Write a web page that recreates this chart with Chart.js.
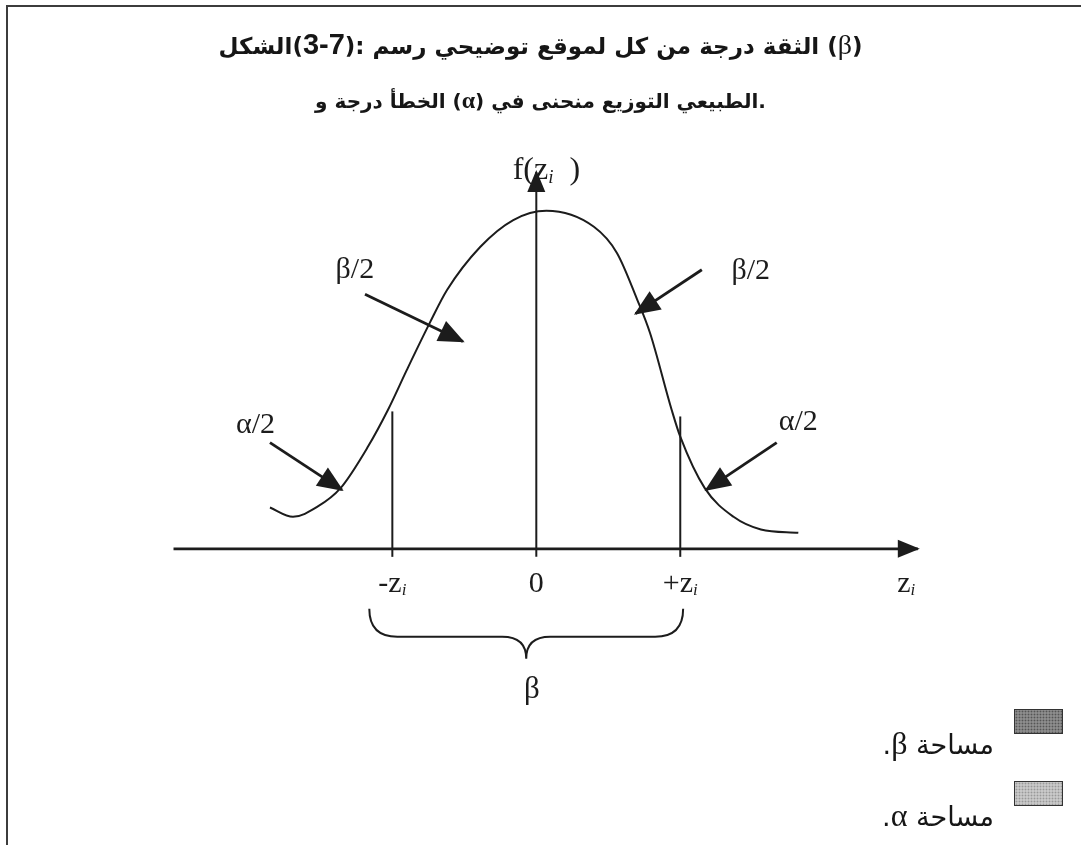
<!DOCTYPE html>
<html lang="ar">
<head>
<meta charset="utf-8">
<title>الشكل(3-7)</title>
<script src="https://cdn.jsdelivr.net/npm/chart.js@4.4.1/dist/chart.umd.min.js"></script>
<style>
  html, body { margin: 0; padding: 0; background: #fff; }
  #page { position: relative; width: 1081px; height: 845px; overflow: hidden; background: #fff; }
  #page canvas { position: absolute; left: 0; top: 0; }
  .frame-top { position: absolute; left: 6px; top: 5px; width: 1075px; height: 2px; background: #3c3c3c; }
  .frame-left { position: absolute; left: 6px; top: 5px; width: 2px; height: 840px; background: #3c3c3c; }
  .title { position: absolute; left: 0; width: 1081px; text-align: center; direction: ltr;
           font-family: 'DejaVu Sans', sans-serif; font-weight: bold; color: #161616; white-space: nowrap; }
  .t1 { top: 24px; font-size: 23px; line-height: 40px; }
  .t2 { top: 80px; font-size: 20px; line-height: 40px; }
  .num { font-family: 'Liberation Sans', Arial, sans-serif; font-size: 29px; }
  .gr { font-family: 'Liberation Serif', 'Times New Roman', serif; font-weight: normal; font-size: 28px; }
  .t2 .gr { font-size: 24px; font-weight: bold; }
  .swatch { position: absolute; left: 1014px; width: 47px; height: 23px; border: 1px solid #333; }
  .sw-beta { top: 709px; background-color: #8c8c8c;
             background-image: radial-gradient(#555 0.8px, transparent 1.1px); background-size: 3px 3px; }
  .sw-alpha { top: 781px; background-color: #c8c8c8;
              background-image: radial-gradient(#999 0.8px, transparent 1.1px); background-size: 3px 3px; }
  .leg-text { position: absolute; right: 87px; direction: rtl; font-family: 'DejaVu Sans', sans-serif;
              font-size: 27px; line-height: 30px; color: #161616; white-space: nowrap; }
  .leg-text .gr { font-size: 32px; }
</style>
</head>
<body>
<div id="page">
  <canvas id="chart" width="1081" height="845"></canvas>
  <div class="frame-top"></div>
  <div class="frame-left"></div>
  <div class="title t1"><bdi>الشكل</bdi>(<span class="num">3-7</span>): <bdi>رسم</bdi> <bdi>توضيحي</bdi> <bdi>لموقع</bdi> <bdi>كل</bdi> <bdi>من</bdi> <bdi>درجة</bdi> <bdi>الثقة</bdi> (<span class="gr">β</span>)</div>
  <div class="title t2"><bdi>و</bdi> <bdi>درجة</bdi> <bdi>الخطأ</bdi> (<span class="gr">α</span>) <bdi>في</bdi> <bdi>منحنى</bdi> <bdi>التوزيع</bdi> <bdi>الطبيعي</bdi>.</div>
  <div class="swatch sw-beta"></div>
  <div class="leg-text" style="top:728px">مساحة <span class="gr">β</span>.</div>
  <div class="swatch sw-alpha"></div>
  <div class="leg-text" style="top:800px">مساحة <span class="gr">α</span>.</div>
</div>
<script>
// curve: z in units of z_i, f(z) in density units
const curveZ = [-1.85, -1.69, -1.52, -1.36, -1.17, -1.03, -0.90, -0.74, -0.62, -0.39, -0.16, 0.07,
                0.40, 0.56, 0.70, 0.79, 0.94, 1.00, 1.17, 1.37, 1.56, 1.82];
const curveF = [0.049, 0.038, 0.050, 0.072, 0.121, 0.165, 0.212, 0.268, 0.307, 0.358, 0.390, 0.401,
                0.382, 0.351, 0.296, 0.256, 0.165, 0.133, 0.072, 0.038, 0.023, 0.019];

// axes and the two critical values
const xAxisSpan = [-2.52, 2.65];
const yAxisSpan = [-0.0095, 0.447];
const criticalZ = [-1, 1];
const criticalTop = [0.163, 0.157];
const criticalBottom = -0.0095;

// tick labels on the z axis
const tickZ = [-1, 0, 1, 2.57];
const tickText = ['-z', '0', '+z', 'z'];
const tickSub = ['i', '', 'i', 'i'];

// pointer arrows and their labels
const arrowStart = [[-1.19, 0.302], [1.15, 0.331], [-1.85, 0.126], [1.67, 0.126]];
const arrowTip = [[-0.51, 0.246], [0.69, 0.279], [-1.35, 0.070], [1.18, 0.070]];
const arrowText = ['β/2', 'β/2', 'α/2', 'α/2'];
const arrowTextAt = [[-1.26, 0.330], [1.49, 0.329], [-1.95, 0.147], [1.82, 0.150]];

// brace under the confidence interval
const braceSpan = [-1.16, 1.02];
const braceTipZ = -0.07;
const betaAt = [-0.03, -0.167];

const INK = '#1c1c1c';
const SERIF = "'Liberation Serif', 'Times New Roman', serif";

const pts = (xs, ys) => xs.map((x, i) => ({ x, y: ys[i] }));

const datasets = [
  {
    data: pts(curveZ, curveF),
    borderColor: INK, borderWidth: 2, cubicInterpolationMode: 'monotone'
  },
  { data: [{ x: xAxisSpan[0], y: 0 }, { x: xAxisSpan[1], y: 0 }], borderColor: INK, borderWidth: 2.8, arrowHead: [20, 9] },
  { data: [{ x: 0, y: yAxisSpan[0] }, { x: 0, y: yAxisSpan[1] }], borderColor: INK, borderWidth: 2, arrowHead: [20, 9] }
];
criticalZ.forEach((z, i) => {
  datasets.push({ data: [{ x: z, y: criticalBottom }, { x: z, y: criticalTop[i] }], borderColor: INK, borderWidth: 2 });
});
arrowStart.forEach((s, i) => {
  datasets.push({
    data: [{ x: s[0], y: s[1] }, { x: arrowTip[i][0], y: arrowTip[i][1] }],
    borderColor: INK, borderWidth: 2.8, arrowHead: [24, 11]
  });
});
datasets.forEach(d => { d.showLine = true; d.pointRadius = 0; d.clip = false; d.fill = false; });

const arrowHeads = {
  id: 'arrowHeads',
  afterDatasetsDraw(chart) {
    const ctx = chart.ctx;
    chart.data.datasets.forEach((ds, i) => {
      if (!ds.arrowHead) return;
      const els = chart.getDatasetMeta(i).data;
      const a = els[els.length - 2], b = els[els.length - 1];
      const ang = Math.atan2(b.y - a.y, b.x - a.x);
      const [len, half] = ds.arrowHead;
      ctx.save();
      ctx.translate(b.x, b.y);
      ctx.rotate(ang);
      ctx.beginPath();
      ctx.moveTo(2, 0);
      ctx.lineTo(-len, -half);
      ctx.lineTo(-len, half);
      ctx.closePath();
      ctx.fillStyle = ds.borderColor;
      ctx.fill();
      ctx.restore();
    });
  }
};

// text with an italic subscript, centred on cx
function subText(ctx, main, sub, cx, baseY, size, tail) {
  const mainFont = size + 'px ' + SERIF;
  const subFont = 'italic ' + Math.round(size * 0.58) + 'px ' + SERIF;
  ctx.font = mainFont; const w1 = ctx.measureText(main).width;
  ctx.font = subFont; const w2 = sub ? ctx.measureText(sub).width : 0;
  ctx.font = mainFont; const w3 = tail ? ctx.measureText(tail).width : 0;
  let x = cx - (w1 + w2 + w3) / 2;
  ctx.textAlign = 'left';
  ctx.textBaseline = 'alphabetic';
  ctx.font = mainFont; ctx.fillText(main, x, baseY); x += w1;
  if (sub) { ctx.font = subFont; ctx.fillText(sub, x, baseY + size * 0.12); x += w2; }
  if (tail) { ctx.font = mainFont; ctx.fillText(tail, x, baseY); }
}

const figureText = {
  id: 'figureText',
  afterDraw(chart) {
    const ctx = chart.ctx;
    const sx = chart.scales.x, sy = chart.scales.y;
    const y0 = sy.getPixelForValue(0);
    ctx.save();
    ctx.direction = 'ltr';
    ctx.fillStyle = INK;

    // arrow labels
    ctx.font = '30px ' + SERIF;
    ctx.textAlign = 'center';
    ctx.textBaseline = 'middle';
    arrowText.forEach((t, i) => {
      ctx.fillText(t, sx.getPixelForValue(arrowTextAt[i][0]), sy.getPixelForValue(arrowTextAt[i][1]));
    });

    // y axis name
    subText(ctx, 'f(z', 'i', sx.getPixelForValue(0.07), sy.getPixelForValue(yAxisSpan[1]) + 7, 32, '  )');

    // z axis tick labels
    tickZ.forEach((z, i) => {
      subText(ctx, tickText[i], tickSub[i], sx.getPixelForValue(z), y0 + 43, 30, '');
    });

    // brace
    const xa = sx.getPixelForValue(braceSpan[0]), xb = sx.getPixelForValue(braceSpan[1]);
    const xt = sx.getPixelForValue(braceTipZ);
    const yTop = y0 + 60, yMid = y0 + 88, yTip = y0 + 110;
    ctx.beginPath();
    ctx.moveTo(xa, yTop);
    ctx.quadraticCurveTo(xa, yMid, xa + 28, yMid);
    ctx.lineTo(xt - 24, yMid);
    ctx.quadraticCurveTo(xt, yMid, xt, yTip);
    ctx.quadraticCurveTo(xt, yMid, xt + 24, yMid);
    ctx.lineTo(xb - 28, yMid);
    ctx.quadraticCurveTo(xb, yMid, xb, yTop);
    ctx.strokeStyle = INK;
    ctx.lineWidth = 2;
    ctx.stroke();

    ctx.font = '31px ' + SERIF;
    ctx.textAlign = 'center';
    ctx.textBaseline = 'middle';
    ctx.fillText('β', sx.getPixelForValue(betaAt[0]), sy.getPixelForValue(betaAt[1]));
    ctx.restore();
  }
};

new Chart(document.getElementById('chart'), {
  type: 'scatter',
  data: { datasets },
  options: {
    responsive: false,
    animation: false,
    devicePixelRatio: 1,
    layout: { padding: { left: 162, right: 156, top: 161, bottom: 254 } },
    scales: {
      x: { type: 'linear', min: -2.6, max: 2.7, display: false },
      y: { type: 'linear', min: -0.05, max: 0.46, display: false }
    },
    plugins: {
      legend: { display: false },
      tooltip: { enabled: false },
      title: { display: false }
    }
  },
  plugins: [arrowHeads, figureText]
});
</script>
</body>
</html>
